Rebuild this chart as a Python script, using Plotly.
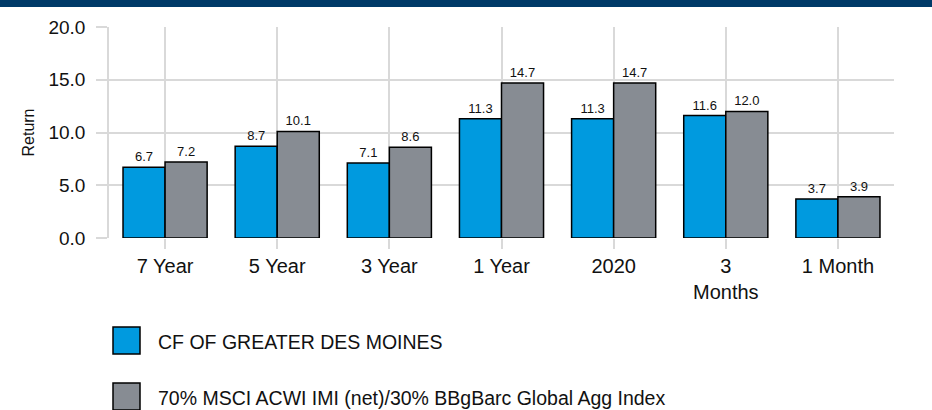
import plotly.graph_objects as go

categories = ["7 Year", "5 Year", "3 Year", "1 Year", "2020", "3<br>Months", "1 Month"]
fund_name = "CF OF GREATER DES MOINES"
bench_name = "70% MSCI ACWI IMI (net)/30% BBgBarc Global Agg Index"
fund_values = [6.7, 8.7, 7.1, 11.3, 11.3, 11.6, 3.7]
bench_values = [7.2, 10.1, 8.6, 14.7, 14.7, 12.0, 3.9]
y_ticks = [0, 5, 10, 15, 20]

FONT = "Liberation Sans, Arial, sans-serif"
BLUE = "#009ADF"
GRAY = "#878C93"
GRID = "#D9D9D9"
TXT = "#111111"

fig = go.Figure()
for name, vals, col in [(fund_name, fund_values, BLUE), (bench_name, bench_values, GRAY)]:
    fig.add_trace(go.Bar(
        x=categories, y=vals, name=name,
        marker=dict(color=col, line=dict(color="black", width=1.5)),
        texttemplate="%{y:.1f}", textposition="outside",
        textfont=dict(size=13, color=TXT, family=FONT),
        cliponaxis=False, showlegend=False, hoverinfo="skip",
    ))

shapes = [
    # top dark band
    dict(type="rect", xref="paper", yref="paper", xsizemode="pixel", ysizemode="pixel",
         xanchor=0, yanchor=1, x0=-120, x1=840, y0=20, y1=40,
         fillcolor="#003A68", line=dict(width=0), layer="above"),
]
annotations = []
for i, (name, col) in enumerate([(fund_name, BLUE), (bench_name, GRAY)]):
    top = 327 + i * 56
    shapes.append(dict(type="rect", xref="paper", yref="paper", xsizemode="pixel", ysizemode="pixel",
                       xanchor=0, yanchor=0, x0=4, x1=31, y0=238 - top - 27, y1=238 - top,
                       fillcolor=col, line=dict(color="black", width=1.5)))
    annotations.append(dict(xref="paper", yref="paper", x=0, y=0, xshift=47, yshift=238 - (top + 15),
                            xanchor="left", yanchor="middle", showarrow=False, text=name,
                            font=dict(size=19.5, color=TXT, family=FONT)))

fig.update_layout(
    width=932, height=410,
    margin=dict(l=109, r=38, t=27, b=172),
    paper_bgcolor="white", plot_bgcolor="white",
    barmode="group", bargap=0.25, bargroupgap=0,
    font=dict(family=FONT, color=TXT),
    shapes=shapes, annotations=annotations,
    showlegend=False,
)
fig.update_yaxes(
    range=[0, 20], tickvals=y_ticks, tickformat=".1f",
    showgrid=True, gridcolor=GRID, gridwidth=1.5, zeroline=False,
    ticks="outside", ticklen=11, tickcolor=GRID, tickwidth=1.5,
    showline=True, linecolor=GRID, linewidth=1.5,
    ticklabelstandoff=7,
    tickfont=dict(size=19, family=FONT, color=TXT),
    title=dict(text="Return", font=dict(size=16, family=FONT, color=TXT), standoff=10),
)
fig.update_xaxes(
    showgrid=True, gridcolor=GRID, gridwidth=1.5,
    ticks="outside", ticklen=10, tickcolor=GRID, tickwidth=1.5,
    showline=False,
    tickfont=dict(size=20, family=FONT, color=TXT),
)

fig.write_html("out.html", config={"displayModeBar": False},
               post_script="document.body.style.margin='0px';")
